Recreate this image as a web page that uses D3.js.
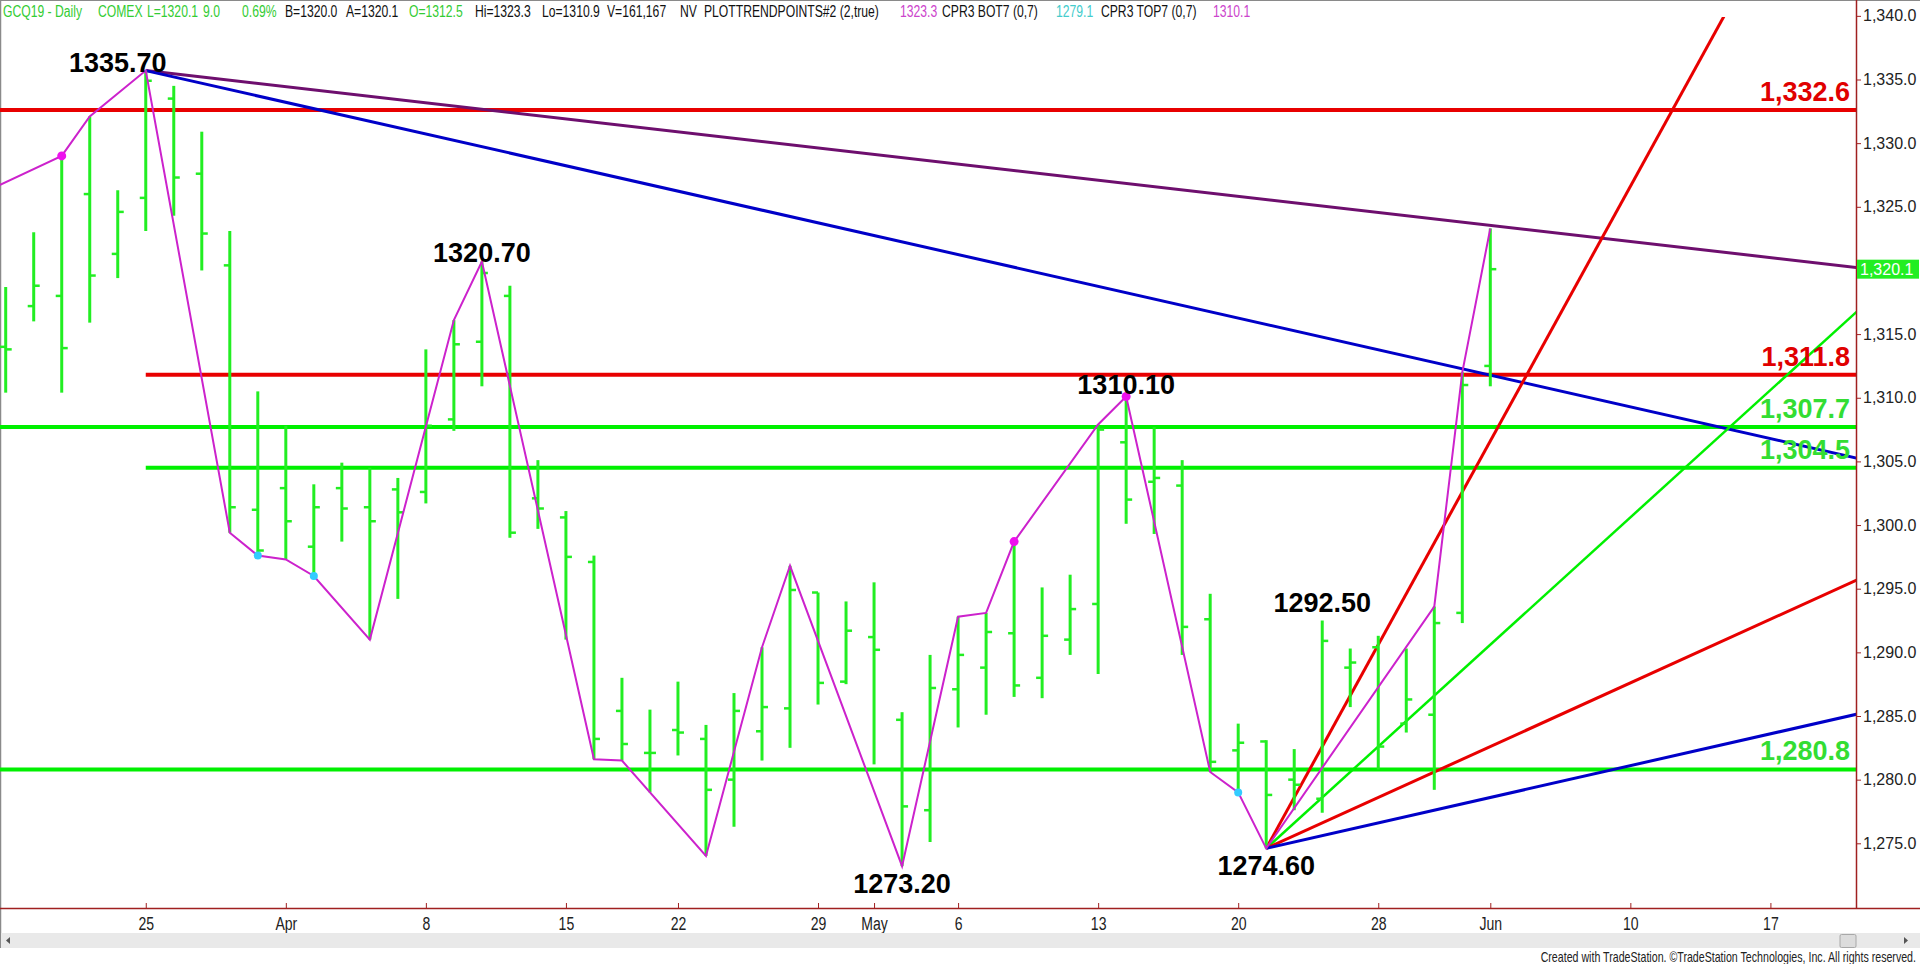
<!DOCTYPE html>
<html><head><meta charset="utf-8">
<script src="https://cdn.jsdelivr.net/npm/d3@7/dist/d3.min.js"></script>
<style>
html,body{margin:0;padding:0;background:#fff;overflow:hidden}
svg{display:block}
</style></head><body>
<svg id="chart" width="1920" height="964"></svg>
<script>
// ---------------- DATA ----------------
// trading-day index 0 = Mar 18 2019 ... 53 = Jun 3 2019
const opens  = [1314.0,1317.2,1318.0,1326.0,1321.3,1325.7,1333.5,1327.6,1320.4,1301.2,
                1302.9,1298.3,1302.9,1301.4,1302.8,1302.6,1308.3,1314.4,1318.0,1302.1,
                1300.6,1297.1,1285.4,1282.1,1283.9,1283.2,1280.0,1283.8,1285.6,1294.7,
                1287.7,1291.2,1284.7,1277.6,1287.1,1288.8,1291.5,1288.0,1291.0,1293.8,
                1306.5,1303.4,1303.1,1292.6,1282.3,1283.0,1280.0,1278.5,1288.8,1290.4,
                1284.4,1285.1,1293.1,1312.5];
const highs  = [1318.7,1323.0,1329.0,1332.1,1326.3,1335.7,1334.5,1330.9,1323.1,1310.5,
                1307.8,1303.2,1304.9,1304.5,1303.7,1313.8,1316.1,1320.7,1318.8,1305.1,
                1301.1,1297.6,1288.0,1285.5,1287.7,1284.3,1286.8,1290.4,1296.8,1294.7,
                1294.0,1295.5,1285.3,1289.8,1292.8,1293.1,1298.7,1295.1,1296.1,1307.9,
                1310.1,1307.7,1305.1,1294.6,1284.4,1283.1,1282.4,1292.5,1290.3,1291.3,
                1290.3,1293.6,1312.0,1323.3];
const lows   = [1310.4,1316.0,1310.4,1315.9,1319.4,1323.1,1324.3,1320.0,1299.4,1297.6,
                1297.3,1296.0,1298.7,1291.0,1294.2,1301.7,1307.4,1310.9,1299.0,1299.7,
                1291.0,1281.6,1281.5,1279.0,1281.9,1274.0,1276.3,1281.5,1282.5,1285.9,
                1287.5,1281.2,1273.2,1275.1,1284.1,1285.1,1286.5,1286.4,1289.8,1288.3,
                1300.1,1299.3,1289.8,1280.6,1279.0,1274.6,1277.6,1277.4,1285.7,1280.8,
                1283.7,1279.2,1292.3,1310.9];
const closes = [1313.8,1318.8,1313.9,1319.6,1324.6,1334.9,1327.3,1322.9,1301.4,1298.0,
                1300.3,1301.4,1301.3,1300.3,1301.0,1307.8,1314.2,1319.8,1299.4,1301.3,
                1297.5,1283.2,1282.8,1282.1,1283.7,1279.2,1285.4,1285.7,1294.9,1287.6,
                1291.7,1290.2,1277.9,1287.2,1289.8,1291.6,1287.4,1291.3,1293.4,1307.5,
                1302.0,1303.7,1292.0,1281.4,1282.9,1278.8,1279.6,1290.9,1289.2,1282.6,
                1286.3,1292.3,1311.0,1320.1];

// x-axis tick labels (trading-day index of each)
const tickIdx    = [5,10,15,20,24,29,31,34,39,44,49,53,58,63];
const tickLabels = ["25","Apr","8","15","22","29","May","6","13","20","28","Jun","10","17"];
const priceTicks = [1275,1280,1285,1290,1295,1300,1305,1310,1315,1320,1325,1330,1335,1340];
const lastPrice = 1320.1;

// swing (zigzag) line pivots
const pivotIdx = [-1,2,3,5,8,9,10,11,13,16,17,21,22,25,27,28,32,34,35,36,39,40,43,44,45,51,52,53];
const pivotVal = [1325.9,1329.0,1332.1,1335.7,1299.4,1297.6,1297.3,1296.0,1291.0,1316.1,1320.7,
                  1281.6,1281.5,1274.0,1290.4,1296.8,1273.2,1292.8,1293.1,1298.7,1307.9,1310.1,
                  1280.6,1279.0,1274.6,1293.6,1312.0,1323.3];
const magentaDotIdx = [2,36,40];
const cyanDotIdx    = [9,11,44];

// swing labels
const swingIdx  = [5,17,40,32,47,45];
const swingVal  = [1335.70,1320.70,1310.10,1273.20,1292.50,1274.60];
const swingType = ["H","H","H","L","H","L"];

// horizontal levels
const levelVals  = [1332.6,1311.8,1307.7,1304.5,1280.8];
const levelFrom  = [-0.3,5,-0.3,5,-0.3];
const levelKind  = ["red","red","green","green","green"];

// down trend lines from the 1335.70 top: [idx,value]
const trendStart = [[5,1335.7],[5,1335.7]];
const trendEnd   = [[66.2,1320.2],[66.2,1305.2]];
const trendKind  = ["purple","blue"];

// fan lines from the 1274.60 low (price per bar)
const fanOrigin = [45,1274.6];
const fanSlopes = [4,2,1,0.5];
const fanKind   = ["red","green","red","blue"];

// header text
const headerTexts = ["GCQ19 - Daily","COMEX","L=1320.1","9.0","0.69%","B=1320.0","A=1320.1","O=1312.5",
  "Hi=1323.3","Lo=1310.9","V=161,167","NV","PLOTTRENDPOINTS#2 (2,true)","1323.3","CPR3 BOT7 (0,7)",
  "1279.1","CPR3 TOP7 (0,7)","1310.1"];
const headerKind = ["g","g","g","g","g","k","k","g","k","k","k","k","k","m","k","c","k","m"];

// ---------------- LAYOUT / STYLE ----------------
const COL = {red:"#e80000", green:"#00f000", purple:"#6e0f6e", blue:"#0000c8",
             magenta:"#cc22cc", cyan:"#33ccff", bar:"#22ee22", axis:"#a02020"};
const HCOL = {g:"#33cc33", k:"#111", m:"#cc44cc", c:"#44cccc"};
const headerX = [3,98,147,203,242,285,346,409,475,542,607,680,704,900,942,1056,1101,1213];
const SANS = "'Liberation Sans',Arial,sans-serif";
const HSCALE = 0.76;
const plotRight = 1856, plotBottom = 908;

const svg = d3.select("#chart");
const x = d3.scaleLinear().domain([0,53]).range([5.7,1490.3]);
const y = d3.scaleLinear().domain([1275,1340]).range([843.3,15.85]);

svg.append("defs").append("clipPath").attr("id","plotclip")
  .append("rect").attr("x",0).attr("y",17).attr("width",plotRight).attr("height",plotBottom-17);

// borders
svg.append("line").attr("x1",0).attr("x2",1920).attr("y1",0.5).attr("y2",0.5).attr("stroke","#8a8a8a").attr("stroke-width",1);
svg.append("line").attr("x1",0.5).attr("x2",0.5).attr("y1",0).attr("y2",948).attr("stroke","#8a8a8a").attr("stroke-width",1.5);

const plot = svg.append("g").attr("clip-path","url(#plotclip)");

// horizontal levels
plot.selectAll("line.level").data(levelVals).join("line").attr("class","level")
  .attr("x1",(d,i)=>x(levelFrom[i])).attr("x2",plotRight)
  .attr("y1",d=>y(d)).attr("y2",d=>y(d))
  .attr("stroke",(d,i)=>COL[levelKind[i]]).attr("stroke-width",4);

// trend lines
plot.selectAll("line.trend").data(trendStart).join("line").attr("class","trend")
  .attr("x1",d=>x(d[0])).attr("y1",d=>y(d[1]))
  .attr("x2",(d,i)=>x(trendEnd[i][0])).attr("y2",(d,i)=>y(trendEnd[i][1]))
  .attr("stroke",(d,i)=>COL[trendKind[i]]).attr("stroke-width",3);

// fan lines
const fanEnd = 66.2;
plot.selectAll("line.fan").data(fanSlopes).join("line").attr("class","fan")
  .attr("x1",x(fanOrigin[0])).attr("y1",y(fanOrigin[1]))
  .attr("x2",x(fanEnd)).attr("y2",d=>y(fanOrigin[1]+d*(fanEnd-fanOrigin[0])))
  .attr("stroke",(d,i)=>COL[fanKind[i]]).attr("stroke-width",(d,i)=>fanKind[i]==="green"?2.5:3);

// OHLC bars
const bars = plot.append("g");
const idx = d3.range(opens.length);
bars.selectAll("line.hl").data(idx).join("line").attr("class","hl")
  .attr("x1",i=>x(i)).attr("x2",i=>x(i)).attr("y1",i=>y(highs[i])).attr("y2",i=>y(lows[i]))
  .attr("stroke",COL.bar).attr("stroke-width",3);
bars.selectAll("line.op").data(idx).join("line").attr("class","op")
  .attr("x1",i=>x(i)-6).attr("x2",i=>x(i)).attr("y1",i=>y(opens[i])).attr("y2",i=>y(opens[i]))
  .attr("stroke",COL.bar).attr("stroke-width",2.5);
bars.selectAll("line.cl").data(idx).join("line").attr("class","cl")
  .attr("x1",i=>x(i)).attr("x2",i=>x(i)+6).attr("y1",i=>y(closes[i])).attr("y2",i=>y(closes[i]))
  .attr("stroke",COL.bar).attr("stroke-width",2.5);

// zigzag
const zz = d3.line().x(d=>x(d[0])).y(d=>y(d[1]));
plot.append("path").datum(pivotIdx.map((d,i)=>[d,pivotVal[i]]))
  .attr("d",zz).attr("fill","none").attr("stroke",COL.magenta).attr("stroke-width",2);
plot.selectAll("circle.md").data(magentaDotIdx).join("circle").attr("class","md")
  .attr("cx",i=>x(i)).attr("cy",i=>y(highs[i])).attr("r",4.5).attr("fill","#ee11ee");
plot.selectAll("circle.cd").data(cyanDotIdx).join("circle").attr("class","cd")
  .attr("cx",i=>x(i)).attr("cy",i=>y(lows[i])).attr("r",4).attr("fill",COL.cyan);

// swing labels
const swingDx = [-28,0,0,0,0,0];
const swingDy = [1,0,-2,27,-9,27];
svg.selectAll("text.swing").data(swingVal).join("text").attr("class","swing")
  .attr("x",(d,i)=>x(swingIdx[i])+swingDx[i])
  .attr("y",(d,i)=>y(d)+swingDy[i])
  .attr("text-anchor","middle").attr("font-family",SANS).attr("font-weight","bold")
  .attr("font-size",27).attr("fill","#000").text(d=>d.toFixed(2));

// level labels
const fmt1 = d3.format(",.1f");
svg.selectAll("text.lvl").data(levelVals).join("text").attr("class","lvl")
  .attr("x",1850).attr("y",d=>y(d)-9).attr("text-anchor","end")
  .attr("font-family",SANS).attr("font-weight","bold").attr("font-size",27)
  .attr("fill",(d,i)=>levelKind[i]==="red"?"#e00000":"#33dd33").text(d=>fmt1(d));

// right axis
const ax = svg.append("g").attr("transform",`translate(${plotRight},0)`)
  .call(d3.axisRight(y).tickValues(priceTicks).tickFormat(fmt1).tickSize(5).tickPadding(2));
ax.select(".domain").remove();
ax.selectAll(".tick line").attr("stroke",COL.axis);
ax.selectAll(".tick text").attr("font-family",SANS).attr("font-size",16).attr("fill","#222");
svg.append("line").attr("x1",plotRight+0.5).attr("x2",plotRight+0.5).attr("y1",0).attr("y2",plotBottom)
  .attr("stroke",COL.axis).attr("stroke-width",1.5);

// last price box
svg.append("rect").attr("x",plotRight+1).attr("y",y(lastPrice)-9.5).attr("width",62).attr("height",19).attr("fill","#22ee22");
svg.append("text").attr("x",plotRight+4).attr("y",y(lastPrice)+5.5).attr("font-family",SANS)
  .attr("font-size",16).attr("fill","#fff").text(fmt1(lastPrice));

// bottom axis
const bx = svg.append("g").attr("transform",`translate(0,${plotBottom})`)
  .call(d3.axisBottom(x).tickValues(tickIdx).tickFormat((d,i)=>tickLabels[i]).tickSize(-5).tickPadding(9));
bx.select(".domain").remove();
bx.selectAll(".tick line").attr("stroke",COL.axis);
bx.selectAll(".tick text").attr("font-family",SANS).attr("font-size",19).attr("fill","#222")
  .attr("transform",`scale(0.74,1)`);
svg.append("line").attr("x1",0).attr("x2",1920).attr("y1",plotBottom+0.5).attr("y2",plotBottom+0.5)
  .attr("stroke",COL.axis).attr("stroke-width",1.5);

// scrollbar
svg.append("rect").attr("x",1).attr("y",933).attr("width",1919).attr("height",15).attr("fill","#e9e9e9");
svg.append("path").attr("d","M10,937 L6,940.5 L10,944 Z").attr("fill","#555");
svg.append("path").attr("d","M1904,937 L1908,940.5 L1904,944 Z").attr("fill","#555");
svg.append("rect").attr("x",1840).attr("y",934.5).attr("width",16).attr("height",13).attr("rx",1.5)
  .attr("fill","#dcdcdc").attr("stroke","#a8a8a8");

// footer
svg.append("g").attr("transform",`translate(1916,962) scale(0.76,1)`)
  .append("text").attr("x",0).attr("y",0).attr("text-anchor","end").attr("font-family",SANS)
  .attr("font-size",14).attr("fill","#222")
  .text("Created with TradeStation. \u00A9TradeStation Technologies, Inc. All rights reserved.");

// header (condensed)
svg.append("g").attr("transform",`scale(${HSCALE},1)`)
  .selectAll("text.hdr").data(headerTexts).join("text").attr("class","hdr")
  .attr("x",(d,i)=>headerX[i]/HSCALE).attr("y",17).attr("font-family",SANS).attr("font-size",16)
  .attr("fill",(d,i)=>HCOL[headerKind[i]]).text(d=>d);
</script>
</body></html>
